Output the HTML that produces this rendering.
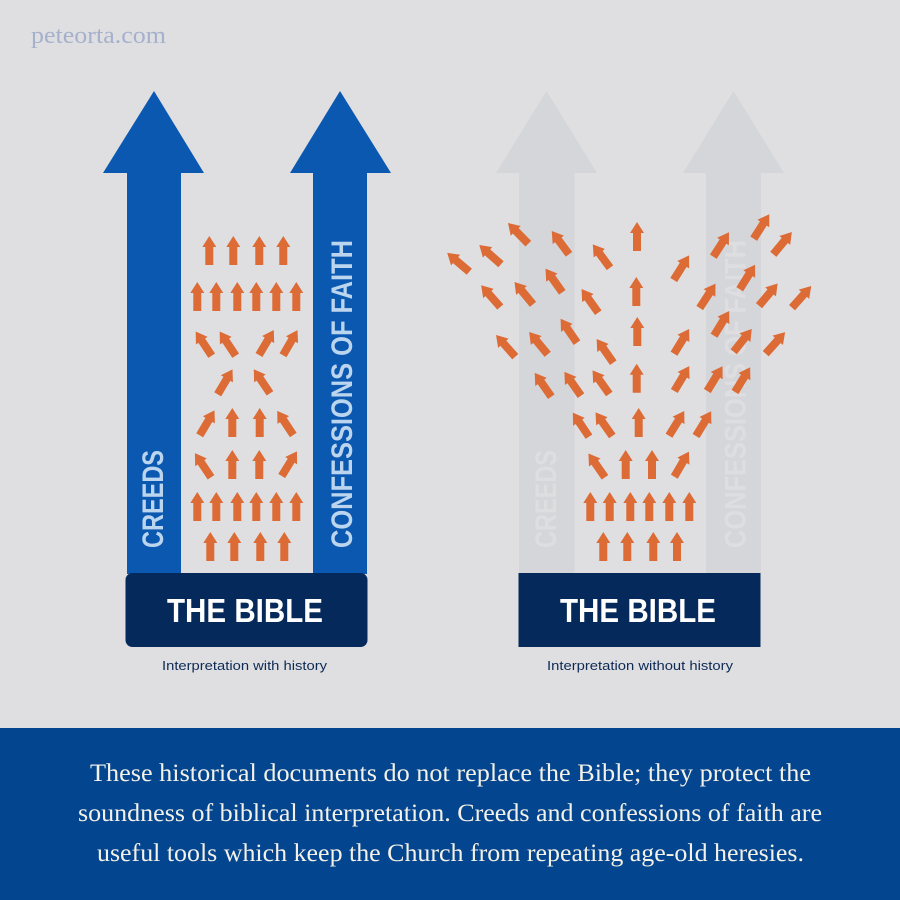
<!DOCTYPE html>
<html lang="en">
<head>
<meta charset="utf-8">
<title>Interpretation with and without history</title>
<style>
html,body{margin:0;padding:0;background:#dfdfe1}
svg{display:block}
text{font-family:"Liberation Sans",sans-serif}
.serif{font-family:"Liberation Serif",serif}
</style>
</head>
<body>
<svg id="chart" width="900" height="900" viewBox="0 0 900 900" xmlns="http://www.w3.org/2000/svg">
  <rect x="0" y="0" width="900" height="900" fill="#dfdfe1"/>
  <text class="serif" x="31" y="43" font-size="24" fill="#a5b1cc" textLength="135" lengthAdjust="spacingAndGlyphs">peteorta.com</text>

  <g>
    <path d="M127 574V173H103L154 91L204 173H181V574Z" fill="#0b58b1"/>
    <path d="M313 574V173H290L340 91L391 173H367V574Z" fill="#0b58b1"/>
    <text transform="translate(163 548) rotate(-90)" font-size="30" font-weight="700" fill="#bcd5ef" textLength="98" lengthAdjust="spacingAndGlyphs">CREEDS</text>
    <text transform="translate(352 548) rotate(-90)" font-size="30" font-weight="700" fill="#bcd5ef" textLength="308" lengthAdjust="spacingAndGlyphs">CONFESSIONS OF FAITH</text>
    <rect x="125.500" y="573" width="242" height="74" rx="7" fill="#05295a"/>
    <text x="167" y="622" font-size="33" font-weight="700" fill="#ffffff" textLength="156" lengthAdjust="spacingAndGlyphs">THE BIBLE</text>
    <text x="162" y="670" font-size="13" fill="#0d2a55" textLength="165" lengthAdjust="spacingAndGlyphs">Interpretation with history</text>
  </g>

  <g>
    <path d="M519 574V173H496L546.500 91L597 173H574.500V574Z" fill="#d5d6da"/>
    <path d="M706 574V173H683L733.500 91L784 173H761V574Z" fill="#d5d6da"/>
    <text transform="translate(556 548) rotate(-90)" font-size="30" font-weight="700" fill="#dedee1" textLength="98" lengthAdjust="spacingAndGlyphs">CREEDS</text>
    <text transform="translate(745.500 548) rotate(-90)" font-size="30" font-weight="700" fill="#dedee1" textLength="308" lengthAdjust="spacingAndGlyphs">CONFESSIONS OF FAITH</text>
    <rect x="518.500" y="573" width="242" height="74" fill="#05295a"/>
    <text x="560" y="622" font-size="33" font-weight="700" fill="#ffffff" textLength="156" lengthAdjust="spacingAndGlyphs">THE BIBLE</text>
    <text x="547" y="670" font-size="13" fill="#0d2a55" textLength="186" lengthAdjust="spacingAndGlyphs">Interpretation without history</text>
  </g>

  <g id="arrows-left"></g>
  <g id="arrows-right"></g>

  <rect x="0" y="728" width="900" height="172" fill="#04458f"/>
  <g fill="#f3f1e8" font-size="25">
    <text class="serif" x="90" y="781" textLength="721" lengthAdjust="spacingAndGlyphs">These historical documents do not replace the Bible; they protect the</text>
    <text class="serif" x="78" y="821" textLength="744" lengthAdjust="spacingAndGlyphs">soundness of biblical interpretation. Creeds and confessions of faith are</text>
    <text class="serif" x="97" y="861" textLength="707" lengthAdjust="spacingAndGlyphs">useful tools which keep the Church from repeating age-old heresies.</text>
  </g>
</svg>
<script>
// Arrow field with history: spread from the Bible's centre, height above it, lean in degrees.
var withSpread = [-36.7,-12.7,13.3,37.3, -48.7,-29.7,-8.7,10.3,30.3,50.3, -34.3,-10.3,13,37, -28.3,24, -46.3,-13.7,13.7,47.3, -35,-13.7,13.3,35.7, -48.7,-29.7,-8.7,10.3,30.3,50.3, -35.7,-11.7,14.3,38.3];
var withHeight = [307,307,307,307, 261,261,261,261,261,261, 216.3,216.3,217,216.7, 177.7,178.7, 136.7,135,135,137, 94.7,93,93,96, 51,51,51,51,51,51, 11,11,11,11];
var withLean = [0,0,0,0, 0,0,0,0,0,0, -33.5,-33.5,30.6,30, 30.7,-34, 30.7,0,0,-33.7, -33.7,0,0,31.7, 0,0,0,0,0,0, 0,0,0,0];

// Arrow field without history.
var withoutSpread = [-35.7,-11.7,14.3,38, -48.7,-29.3,-8.7,10.3,30.3,50.3, -34,-13.3,13,35.3, -50,-26.7,-0.3,30,57, -87.7,-58,-29.7,-2.3,35.3,68.3,96, -123.7,-91.3,-62,-25.7,-1.7,35,75,94.7,126.7, -138.7,-106,-76.7,-40.7,-2.7,60.7,100.7,120,153, -169.7,-138,-110.7,-70,-29,-2,34.7,74.3,114.7,134.3];
var withoutHeight = [11,11,11,11, 51,51,51,51,51,51, 94.7,93,93,95.3, 135.3,136,135,136.3,136, 175.3,176.3,178,179.3,181,181,180, 215.3,217.7,229.3,209.3,226,218.3,236.3,220.3,218.3, 265,267.7,279.7,259.3,266,264,282.7,266.3,264.3, 300.3,307.7,328.3,317.7,304.3,321,292,315.3,333.3,317.7];
var withoutLean = [0,0,0,0, 0,0,0,0,0,0, -34.8,0,0,30.3, -34,-35.3,0,31.8,31.5, -34.9,-34.9,-35.3,0,31,31.5,31.5, -41.6,-39.7,-34.5,-35,0,31.5,31.5,38.5,42, -41.3,-39.7,-35.4,-35.3,0,33,32,40,41.6, -49.6,-48.4,-44.4,-36.5,-36.4,0,32,32.7,32.5,39.7];

var SVG_NS = 'http://www.w3.org/2000/svg';
var BASELINE_Y = 572;
var ARROW_LENGTH = 29;
var HEAD_LENGTH = 11;
var HEAD_HALF = 7;
var SHAFT_HALF = 4;

function xAxis(centre, spread) { return centre + spread; }
function yAxis(height) { return BASELINE_Y - height; }

function drawField(groupId, centre, spreads, heights, leans, namePrefix) {
  var group = document.getElementById(groupId);
  for (var i = 0; i < spreads.length; i++) {
    var x = xAxis(centre, spreads[i]);
    var y = yAxis(heights[i]);
    var shape = document.createElementNS(SVG_NS, 'path');
    var neck = -(ARROW_LENGTH - HEAD_LENGTH);
    shape.setAttribute('d',
      'M' + (-SHAFT_HALF) + ' 0V' + neck + 'H' + (-HEAD_HALF) +
      'L0 ' + (-ARROW_LENGTH) + 'L' + HEAD_HALF + ' ' + neck +
      'H' + SHAFT_HALF + 'V0Z');
    shape.setAttribute('transform', 'translate(' + x + ' ' + y + ') rotate(' + leans[i] + ')');
    shape.setAttribute('fill', '#dc6b36');
    
    
    group.appendChild(shape);
  }
}

drawField('arrows-left', 246, withSpread, withHeight, withLean, 'with-history');
drawField('arrows-right', 639, withoutSpread, withoutHeight, withoutLean, 'without-history');
</script>
</body>
</html>
